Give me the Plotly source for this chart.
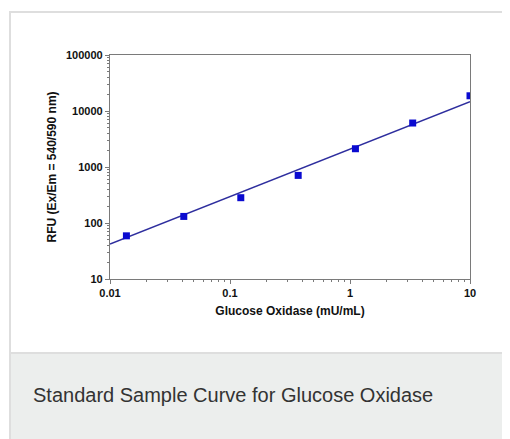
import plotly.graph_objects as go

# Data
concentration = [0.0137, 0.0412, 0.123, 0.370, 1.11, 3.33, 10.0]   # mU/mL
rfu = [59, 131, 283, 708, 2120, 6100, 18700]
fit_x = [0.01, 10.0]
fit_y = [42, 14700]
x_tickvals = [0.01, 0.1, 1, 10]
x_ticktext = ["0.01", "0.1", "1", "10"]
y_tickvals = [10, 100, 1000, 10000, 100000]
y_ticktext = ["10", "100", "1000", "10000", "100000"]
caption = "Standard Sample Curve for Glucose Oxidase"

# page body has an 8px margin; lay out in page pixels and convert
OFF = 8
W, H = 510 - OFF, 439 - OFF
L, R, T, B = 110 - OFF, 40, 55 - OFF, 160
PW, PH = W - L - R, H - T - B


def px(x):
    return (x - OFF - L) / PW


def py(y):
    return (H - B - (y - OFF)) / PH


FONT = "Liberation Sans, Arial, Helvetica, sans-serif"
AX = "#7a7a7a"

fig = go.Figure()
fig.add_trace(go.Scatter(x=fit_x, y=fit_y, mode="lines",
                         line=dict(color="#2e2e9e", width=1.5),
                         showlegend=False, hoverinfo="skip"))
fig.add_trace(go.Scatter(x=concentration, y=rfu, mode="markers",
                         marker=dict(symbol="square", size=7, color="#0a0ad0",
                                     line=dict(width=0)),
                         showlegend=False))

axis_common = dict(
    type="log", showgrid=False, zeroline=False,
    showline=True, linecolor=AX, linewidth=1.2, mirror=True,
    ticks="outside", ticklen=4, tickwidth=1, tickcolor=AX,
    tickfont=dict(family=FONT, size=11, color="#111", weight="bold"),
    minor=dict(ticks="outside", ticklen=2, tickwidth=1, tickcolor=AX,
               dtick="D1", showgrid=False),
)

fig.update_xaxes(**axis_common, range=[-2, 1], tickmode="array",
                 tickvals=x_tickvals, ticktext=x_ticktext,
                 title=dict(text="Glucose Oxidase (mU/mL)", standoff=8,
                            font=dict(family=FONT, size=12, color="#111",
                                      weight="bold")))
fig.update_yaxes(**axis_common, range=[1, 5], tickmode="array",
                 tickvals=y_tickvals, ticktext=y_ticktext,
                 title=dict(text="RFU (Ex/Em = 540/590 nm)", standoff=6,
                            font=dict(family=FONT, size=12, color="#111",
                                      weight="bold")))

shapes = [
    # card outline (white part)
    dict(type="rect", xref="paper", yref="paper", layer="below",
         x0=px(10), x1=px(900), y0=py(12), y1=py(353),
         line=dict(color="#dedede", width=2), fillcolor="white"),
    # caption band
    dict(type="rect", xref="paper", yref="paper", layer="below",
         x0=px(10), x1=px(900), y0=py(353), y1=py(800),
         line=dict(color="#dedede", width=2), fillcolor="#eceeed"),
]

annotations = [
    dict(text=caption, xref="paper", yref="paper", x=px(31), y=py(395),
         xanchor="left", yanchor="middle", showarrow=False,
         font=dict(family=FONT, size=20, color="#333333")),
]

fig.update_layout(
    width=W, height=H,
    margin=dict(l=L, r=R, t=T, b=B, autoexpand=False),
    paper_bgcolor="white", plot_bgcolor="rgba(0,0,0,0)",
    shapes=shapes, annotations=annotations,
)

fig.write_html("out.html", config={"displayModeBar": False})
